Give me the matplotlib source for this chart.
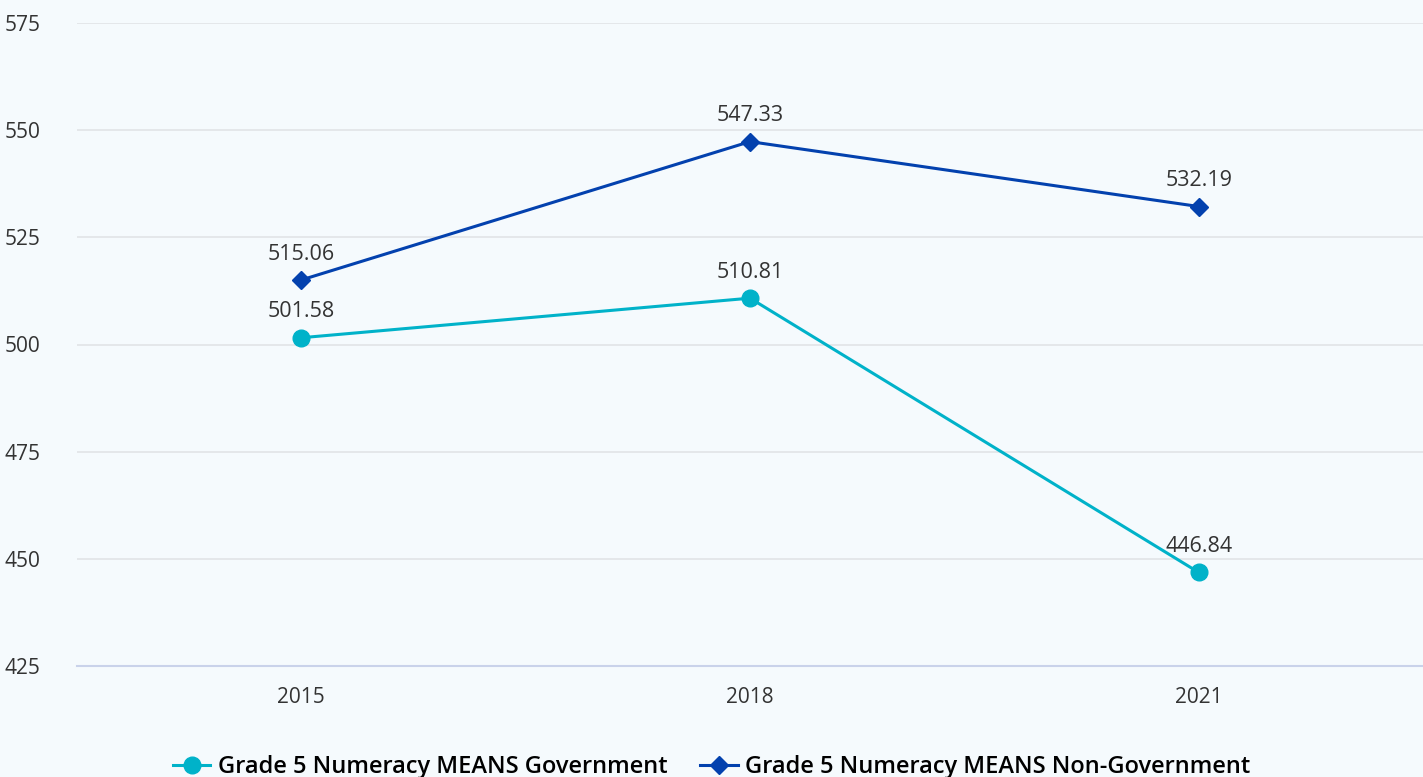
import matplotlib.pyplot as plt
import numpy as np

# ---------- Data ----------
years = ["2015", "2018", "2021"]
gov = [501.58, 510.81, 446.84]
non_gov = [515.06, 547.33, 532.19]
series_names = ["Grade 5 Numeracy MEANS Government",
                "Grade 5 Numeracy MEANS Non-Government"]
y_ticks = [425, 450, 475, 500, 525, 550, 575]

# ---------- Style ----------
bg = "#f5fafd"
teal = "#00b2c9"
navy = "#0341ae"
plt.rcParams["font.family"] = ["Open Sans", "DejaVu Sans"]

fig = plt.figure(figsize=(14.23, 7.77), dpi=100, facecolor=bg)
ax = fig.add_axes([77 / 1423, 1 - 666 / 777, 1 - 77 / 1423, (666 - 23) / 777])
ax.set_facecolor(bg)

x = np.arange(len(years))
l1, = ax.plot(x, gov, color=teal, lw=2.2, marker="o", ms=12, zorder=3)
l2, = ax.plot(x, non_gov, color=navy, lw=2.2, marker="D", ms=9, zorder=3)

# data labels
for series in (gov, non_gov):
    for xi, v in zip(x, series):
        ax.annotate(f"{v:.2f}", (xi, v), xytext=(0, 11), textcoords="offset points",
                    ha="center", va="bottom", fontsize=15.5, color="#333333")

ax.set_xlim(-0.5, len(years) - 0.5)
ax.set_ylim(425, 575)
ax.set_xticks(x)
ax.set_xticklabels(years)
ax.set_yticks(y_ticks)
ax.tick_params(axis="both", length=0, labelsize=15, labelcolor="#333333")
ax.tick_params(axis="x", pad=15)
for lab in ax.get_yticklabels():
    lab.set_horizontalalignment("left")
    lab.set_x(-77 / 1346 + 9 / 1346)

ax.grid(axis="y", color="#e3e5e8", lw=1.3)
ax.set_axisbelow(True)
for s in ["top", "right", "left"]:
    ax.spines[s].set_visible(False)
ax.spines["bottom"].set_color("#c9d2ea")
ax.spines["bottom"].set_linewidth(1.5)

fig.legend([l1, l2], series_names, loc="lower center", bbox_to_anchor=(0.5, -0.03),
           ncol=2, frameon=False, handlelength=1.6, handletextpad=0.3,
           columnspacing=1.4, prop={"weight": "semibold", "size": 17})

plt.savefig("out.png", dpi=100, facecolor=bg)
